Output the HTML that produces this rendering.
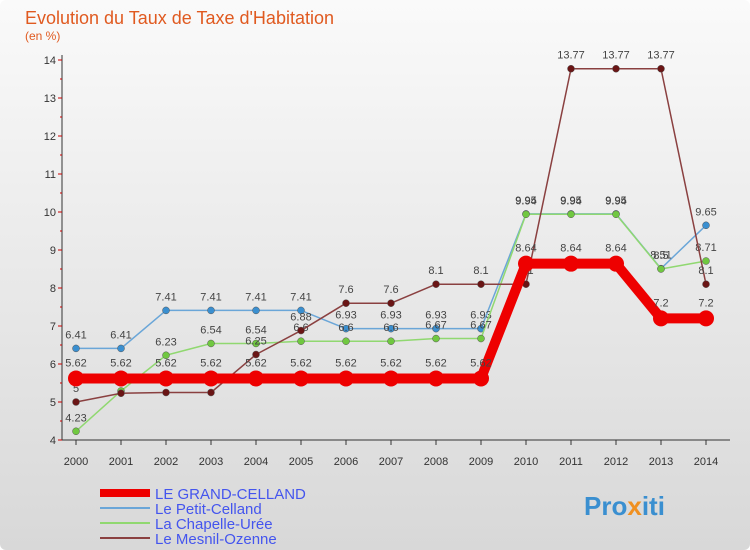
<!DOCTYPE html>
<html><head><meta charset="utf-8"><style>
body{margin:0;width:750px;height:550px;overflow:hidden;font-family:"Liberation Sans",sans-serif}
svg{display:block}
</style></head><body>
<svg id="chart" width="750" height="550" xmlns="http://www.w3.org/2000/svg">
<defs><linearGradient id="bg" x1="0" y1="0" x2="0" y2="1"><stop offset="0" stop-color="#fafafa"/><stop offset="1" stop-color="#d8d8d8"/></linearGradient></defs>
<rect width="750" height="550" fill="url(#bg)" rx="6"/>
<text x="25" y="24" font-size="18" fill="#e05a20">Evolution du Taux de Taxe d'Habitation</text>
<text x="25" y="40" font-size="12" fill="#e05a20">(en %)</text>
<g id="axes"></g><g id="series"></g>
<text x="584" y="515" font-size="26" font-weight="bold" fill="#3a8fd0">Pro<tspan fill="#f09020">x</tspan>iti</text>
</svg>
<script>
const years=[2000,2001,2002,2003,2004,2005,2006,2007,2008,2009,2010,2011,2012,2013,2014];
const yTicks=[4,5,6,7,8,9,10,11,12,13,14];
const grandCelland=[5.62,5.62,5.62,5.62,5.62,5.62,5.62,5.62,5.62,5.62,8.64,8.64,8.64,7.2,7.2];
const petitCelland=[6.41,6.41,7.41,7.41,7.41,7.41,6.93,6.93,6.93,6.93,9.95,9.95,9.95,8.51,9.65];
const chapelle=[4.23,5.29,6.23,6.54,6.54,6.6,6.6,6.6,6.67,6.67,9.94,9.94,9.94,8.5,8.71];
const mesnil=[5,5.23,5.25,5.25,6.25,6.88,7.6,7.6,8.1,8.1,8.1,13.77,13.77,13.77,8.1];
const seriesNames=["LE GRAND-CELLAND","Le Petit-Celland","La Chapelle-Urée","Le Mesnil-Ozenne"];
const NS="http://www.w3.org/2000/svg";
const X=i=>76+i*45, Y=v=>440-(v-4)*38;
function mk(t,a,p){const e=document.createElementNS(NS,t);for(const k in a)e.setAttribute(k,a[k]);p.appendChild(e);return e;}
const ax=document.getElementById('axes'), sg=document.getElementById('series');
const yl=mk('line',{x1:62,y1:55,x2:62,y2:440,stroke:'#333'},ax);


const xl=mk('line',{x1:62,y1:440,x2:730,y2:440,stroke:'#333'},ax);


yTicks.forEach(v=>{
  const t=mk('text',{x:56,y:Y(v)+4,'font-size':11,'text-anchor':'end',fill:'#333'},ax);t.textContent=v;
  
  
  mk('line',{x1:58,y1:Y(v),x2:62,y2:Y(v),stroke:'#c00'},ax);
  if(v<14)mk('line',{x1:60,y1:Y(v+0.5),x2:62,y2:Y(v+0.5),stroke:'#c00'},ax);
});
years.forEach((yr,i)=>{
  const t=mk('text',{x:X(i),y:465,'font-size':11,'text-anchor':'middle',fill:'#333'},ax);t.textContent=yr;
  
  
  mk('line',{x1:X(i),y1:440,x2:X(i),y2:445,stroke:'#333'},ax);
});
const defs=[[grandCelland,'#ee0000','#ee0000',10,8],[petitCelland,'#6aa6d8','#3a8fd0',1.5,3.5],[chapelle,'#90d870','#70c840',1.5,3.5],[mesnil,'#8a4040','#6a1515',1.5,3.5]];
const order=[1,2,3,0];
order.forEach(si=>{
  const [vals,lc,pc,w,r]=defs[si];
  const g=mk('g',{},sg);
  
  
  const l=mk('polyline',{points:vals.map((v,i)=>X(i)+','+Y(v)).join(' '),fill:'none',stroke:lc,'stroke-width':w,'stroke-linejoin':'round'},g);
  
  
  vals.forEach((v,i)=>{
    const c=mk('circle',{cx:X(i),cy:Y(v),r:r,fill:pc,stroke:si?'#555':'none','stroke-width':0.5},g);
    
    
    const t=mk('text',{x:X(i),y:Y(v)-(si?10:12),'font-size':11,'text-anchor':'middle',fill:'#444'},g);t.textContent=v;
    
    
  });
});
const lg=mk('g',{},document.getElementById('chart'));


seriesNames.forEach((n,i)=>{
  const y=493+i*15;
  const l=mk('line',{x1:100,y1:y,x2:150,y2:y,stroke:defs[i][1],'stroke-width':i?2:8},lg);
  
  
  const t=mk('text',{x:155,y:y+6,'font-size':15,fill:'#4455ee'},lg);t.textContent=n;
  
  
});
</script>
</body></html>
